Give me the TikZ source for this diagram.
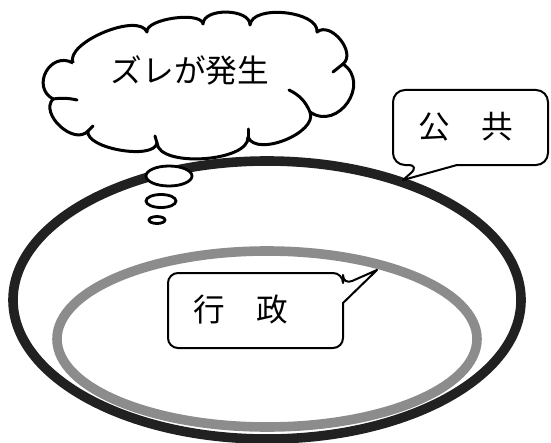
\documentclass[tikz,border=0pt]{standalone}
\usepackage{fontspec}
\newfontfamily\jpfont{Noto Sans CJK JP}
\usepackage{tikz}
\definecolor{ringdark}{gray}{0.13}
\definecolor{ringgray}{gray}{0.55}

\begin{document}
\begin{tikzpicture}[x=0.25mm,y=-0.25mm,
  ring/.style={line width=2.4mm},
  lobe/.style={bend left=90,looseness=#1},
  cloudline/.style={draw,fill=white,line width=0.75mm,line join=round},
  hookline/.style={line width=0.75mm,line cap=round},
  bubble/.style={draw,fill=white,line width=0.7mm},
  calloutline/.style={draw,fill=white,line width=0.5mm,line join=round},
  jplabel/.style={font=\jpfont\fontsize{22.5}{27}\selectfont,inner sep=0pt}]
\useasboundingbox (0,0) rectangle (551,442);
\draw[ring,ringdark] (267,300) ellipse [x radius=254,y radius=139];
\draw[ring,ringgray] (267,339) ellipse [x radius=210,y radius=88];
\draw[bubble] (157,220) ellipse [x radius=8,y radius=3.5];
\draw[bubble] (161,201) ellipse [x radius=15,y radius=6.5];
\draw[bubble] (169,176) ellipse [x radius=23,y radius=10];
\coordinate (c1) at (73,63);
\coordinate (c2) at (147,32);
\coordinate (c3) at (203,24);
\coordinate (c4) at (250,25);
\coordinate (c5) at (317,32);
\coordinate (c6) at (343,64);
\coordinate (c7) at (310,112);
\coordinate (c8) at (248,137);
\coordinate (c9) at (157,143);
\coordinate (c10) at (88,131);
\coordinate (c11) at (53,99);
\draw[cloudline] (c1) to[lobe=0.7] (c2) to[lobe=0.6] (c3) to[lobe=0.9] (c4)
  to[lobe=0.8] (c5) to[lobe=1.1] (c6) to[lobe=1.5] (c7) to[lobe=0.85] (c8)
  to[lobe=0.7] (c9) to[lobe=0.65] (c10) to[lobe=1.1] (c11) to[lobe=1.6] (c1);
\draw[hookline] (c11) to[bend left=10] (77,100);
\draw[hookline] (c7) to[bend right=20] (289,90);
\draw[hookline] (c6) -- (333,72);
\draw[hookline] (c8) -- (248,129);
\draw[hookline] (c9) -- (155,136);
\draw[hookline] (c10) -- (93,126);
\node[jplabel] (zure) at (190,70) {ズレが発生};
\draw[calloutline] (457,165) [rounded corners=3mm] -- (548,165) -- (548,90)
  -- (393,90) -- (393,165) -- (420,165) [sharp corners] -- (403,180) -- cycle;
\node[jplabel] (kokyo) at (466,127) {公　共};
\draw[calloutline] (343,303) [rounded corners=2.5mm] -- (343,348) -- (168,348)
  -- (168,273) -- (343,273) -- (343,285) [sharp corners] -- (377,270) -- cycle;
\node[jplabel] (gyosei) at (241,310) {行　政};
\end{tikzpicture}
\end{document}
